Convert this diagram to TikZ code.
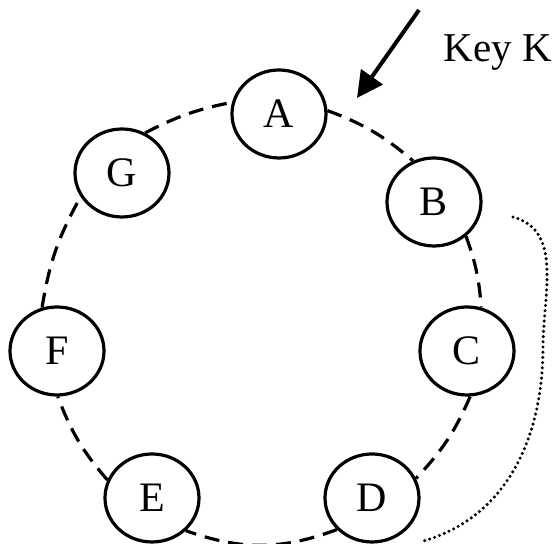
\documentclass[tikz,border=0pt]{standalone}
\usepackage{fontspec}
\setmainfont{Liberation Serif}
\usetikzlibrary{shapes.geometric,arrows.meta}
\begin{document}
\begin{tikzpicture}[x=0.5pt,y=0.5pt,line width=1.6pt]
		\tikzstyle{peer} = [ellipse,draw,fill=white,minimum width=47pt,minimum height=44pt,inner sep=0pt,font=\fontsize{21}{25}\selectfont]
		\tikzstyle{ring} = [dash pattern=on 7.5pt off 4.5pt]
		
		\useasboundingbox (0,0) rectangle (559,544);
		
		\node[peer] (a) at (279,430) {A};
		\node[peer] (b) at (434,342) {B};
		\node[peer] (c) at (467,193) {C};
		\node[peer] (d) at (372,46) {D};
		\node[peer] (e) at (152,46) {E};
		\node[peer] (f) at (57,193) {F};
		\node[peer] (g) at (122,371) {G};
		
		\node[anchor=base,font=\fontsize{20.5}{25}\selectfont] (key) at (498,482) {Key K};
		\coordinate (k0) at (419,534);
		\coordinate (k1) at (357,446);
		
		\path (g.60) edge[ring,bend left=8] (a.166);
		\path (a.4) edge[ring,bend left=10] (b.117);
		\path (b.313) edge[ring,bend left=8] (c.72);
		\path (c.274) edge[ring,bend left=10] (d.24);
		\path (d.222) edge[ring,bend left=20] (e.316);
		\path (e.158) edge[ring,bend left=10] (f.271);
		\path (f.109) edge[ring,bend left=10] (g.210);
		
		\draw[line width=2pt,-{Triangle[length=13pt,width=13pt]}] (k0) -- (k1);
		
		% dotted span from B down to D
		\coordinate (s0) at (513,327);
		\coordinate (s1) at (543,197);
		\coordinate (s2) at (420,2);
		\draw[line width=1.7pt,line cap=round,dash pattern=on 0pt off 2.6pt] (s0) to[out=-15,in=90] (s1) to[out=-90,in=15] (s2);
	\end{tikzpicture}
\end{document}
